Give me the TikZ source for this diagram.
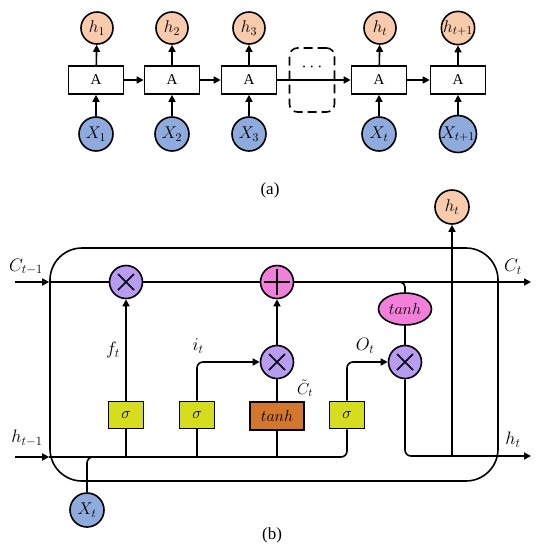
\RequirePackage{fix-cm}
\documentclass[tikz,border=0pt]{standalone}
\usepackage{fontspec}
\setmainfont{Liberation Serif}
\usetikzlibrary{arrows.meta,shapes.geometric,calc}
\definecolor{hcol}{HTML}{F8CBAD}
\definecolor{xcol}{HTML}{8FAADC}
\definecolor{mulcol}{HTML}{B89CF2}
\definecolor{pluscol}{HTML}{F27FD9}
\definecolor{sigcol}{HTML}{D6DC1E}
\definecolor{tanhcol}{HTML}{D2772C}
\tikzset{
  every path/.style={line width=1.6pt},
  >={Triangle[length=7pt,width=7pt]},
  lbl/.style={font=\fontsize{18}{20}\selectfont, inner sep=0pt},
  hnode/.style={circle, draw, fill=hcol, minimum size=32pt, inner sep=0pt, font=\fontsize{17}{19}\selectfont},
  xnode/.style={circle, draw, fill=xcol, minimum size=34pt, inner sep=0pt, font=\fontsize{17}{19}\selectfont},
  abox/.style={draw, fill=white, minimum width=55pt, minimum height=28pt, inner sep=0pt, font=\fontsize{15}{17}\selectfont},
  op/.style={circle, draw, minimum size=33pt, inner sep=0pt},
  mulop/.style={op, fill=mulcol, path picture={
     \draw[line width=1.6pt] ($(path picture bounding box.center)+(-8pt,-8pt)$) -- ($(path picture bounding box.center)+(8pt,8pt)$);
     \draw[line width=1.6pt] ($(path picture bounding box.center)+(-8pt,8pt)$) -- ($(path picture bounding box.center)+(8pt,-8pt)$);}},
  plusop/.style={op, fill=pluscol, path picture={
     \draw[line width=1.6pt] ($(path picture bounding box.center)+(-13pt,0pt)$) -- ($(path picture bounding box.center)+(13pt,0pt)$);
     \draw[line width=1.6pt] ($(path picture bounding box.center)+(0pt,-13pt)$) -- ($(path picture bounding box.center)+(0pt,13pt)$);}},
  sigbox/.style={draw, fill=sigcol, minimum width=35pt, minimum height=27pt, inner sep=0pt, font=\fontsize{16}{18}\selectfont},
  tanhbox/.style={draw, fill=tanhcol, minimum width=54pt, minimum height=28pt, inner sep=0pt, font=\fontsize{16}{18}\selectfont},
  tanhell/.style={ellipse, draw, fill=pluscol, minimum width=53pt, minimum height=32pt, inner sep=0pt, font=\fontsize{16}{18}\selectfont},
  captext/.style={font=\fontsize{17}{19}\selectfont, inner sep=0pt}
}
\begin{document}
\begin{tikzpicture}[x=1pt,y=-1pt]
\useasboundingbox (0,0) rectangle (537,550);
% ---------- part (a)
\node[hnode] (h1) at (97,28) {$h_1$};
\node[hnode] (h2) at (172,28) {$h_2$};
\node[hnode] (h3) at (249,28) {$h_3$};
\node[hnode] (h4) at (380,28) {$h_t$};
\node[hnode] (h5) at (458,28) {$h_{t+1}$};
\node[abox] (a1) at (96,80) {A};
\node[abox] (a2) at (172,80) {A};
\node[abox] (a3) at (249,80) {A};
\node[abox] (a4) at (379,80) {A};
\node[abox] (a5) at (458,80) {A};
\node[xnode] (x1) at (96,134) {$X_1$};
\node[xnode] (x2) at (172,134) {$X_2$};
\node[xnode] (x3) at (249,134) {$X_3$};
\node[xnode] (x4) at (379,134) {$X_t$};
\node[xnode] (x5) at (458,134) {$X_{t+1}$};
\node[draw, dash pattern=on 9pt off 5pt, rounded corners=8pt, minimum width=45pt, minimum height=64pt] (dbox) at (312,80) {};
\node[font=\fontsize{18}{20}\selectfont\bfseries] (dots) at (312,67) {$\cdots$};
\foreach \i in {1,...,5}{
  \draw[->] (a\i) -- (h\i);
  \draw[->] (x\i) -- (a\i);
}
\draw[->] (a1) -- (a2);
\draw[->] (a2) -- (a3);
\draw[->] (a3) -- (a4);
\draw[->] (a4) -- (a5);
\node[captext] (capa) at (270,190) {(a)};
% ---------- part (b)
\node[draw, rounded corners=32pt, minimum width=448pt, minimum height=233pt, inner sep=0pt] (cell) at (274,364.5) {};
\coordinate (cin) at (15,282);
\coordinate (cout) at (531,282);
\coordinate (hin) at (15,457);
\coordinate (hout) at (531,456);
\node[mulop] (m1) at (126,282) {};
\node[plusop] (p1) at (277,282) {};
\node[mulop] (m2) at (277,362) {};
\node[mulop] (m3) at (405,362) {};
\node[tanhell] (te) at (405,309) {$tanh$};
\node[sigbox] (s1) at (126,415) {$\sigma$};
\node[sigbox] (s2) at (197,415) {$\sigma$};
\node[tanhbox] (tb) at (277,416) {$tanh$};
\node[sigbox] (s3) at (347,415) {$\sigma$};
\node[hnode, minimum size=34pt] (hb) at (452,207) {$h_t$};
\node[xnode] (xt) at (87,510) {$X_t$};
% cell state line
\draw[->] (cin) -- (cin -| cell.west);
\draw (cin -| cell.west) -- (m1);
\draw (m1) -- (p1);
\draw[->] (p1) -- (cout);
\draw[rounded corners=5pt] ($(te.north |- cin)+(-10,0)$) -| (te.north);
\draw (te) -- (m3);
% gates
\draw[->] (s1) -- (m1);
\draw[->, rounded corners=6pt] (s2.north) |- (m2.west);
\draw (tb) -- (m2);
\draw[->] (m2) -- (p1);
\draw[->, rounded corners=6pt] (s3.north) |- (m3.west);
% input line
\draw[->] (hin) -- (hin -| cell.west);
\draw[rounded corners=6pt] (hin -| cell.west) -| (s3.south);
\draw (s1.south) -- (s1.south |- hin);
\draw (s2.south) -- (s2.south |- hin);
\draw (tb.south) -- (tb.south |- hin);
\draw[rounded corners=6pt] (xt.north) |- ($(xt.north |- hin)+(14,0)$);
% output
\draw[->, rounded corners=6pt] (m3.south) |- (hout);
\draw[->] (hb |- hout) -- (hb);
% labels
\node[lbl] (lc0) at (26,267) {$C_{t-1}$};
\node[lbl] (lc1) at (513,267) {$C_t$};
\node[lbl] (lh0) at (27,438) {$h_{t-1}$};
\node[lbl] (lh1) at (513,440) {$h_t$};
\node[lbl] (lf) at (113,350) {$f_t$};
\node[lbl] (li) at (198,346) {$i_t$};
\node[lbl] (lo) at (365,346) {$O_t$};
\node[lbl, font=\fontsize{16}{18}\selectfont] (lct) at (305,388) {$\tilde{C}_t$};
\node[captext] (capb) at (272,535) {(b)};
\end{tikzpicture}
\end{document}
